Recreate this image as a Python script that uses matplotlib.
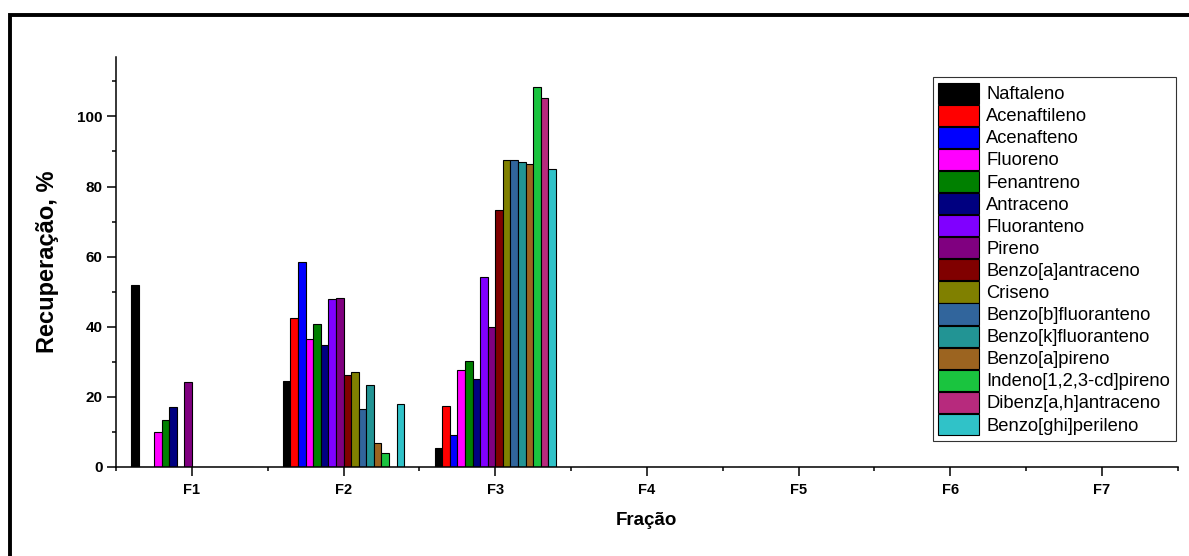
import numpy as np
import matplotlib
matplotlib.use("Agg")
import matplotlib.pyplot as plt
from matplotlib.patches import Rectangle
from matplotlib.ticker import MultipleLocator


########### data
fractions = ["F1", "F2", "F3", "F4", "F5", "F6", "F7"]

compounds = ["Naftaleno", "Acenaftileno", "Acenafteno", "Fluoreno", "Fenantreno",
             "Antraceno", "Fluoranteno", "Pireno", "Benzo[a]antraceno", "Criseno",
             "Benzo[b]fluoranteno", "Benzo[k]fluoranteno", "Benzo[a]pireno",
             "Indeno[1,2,3-cd]pireno", "Dibenz[a,h]antraceno", "Benzo[ghi]perileno"]

colors = ["#000000", "#FF0000", "#0000FF", "#FF00FF", "#008000", "#000080",
          "#8000FF", "#800080", "#800000", "#808000", "#31659C", "#229494",
          "#9C6420", "#1AC43F", "#B72A7D", "#30C2C8"]

# recovery (%) of each compound in each fraction
rec_f1 = [52.0, 0, 0, 10.0, 13.3, 17.1, 0, 24.3, 0, 0, 0, 0, 0, 0, 0, 0]
rec_f2 = [24.6, 42.6, 58.4, 36.4, 40.8, 34.7, 47.8, 48.3, 26.2, 26.9, 16.5, 23.4, 6.9, 4.0, 0, 17.8]
rec_f3 = [5.2, 17.4, 9.1, 27.5, 30.2, 25.0, 54.1, 39.9, 73.3, 87.5, 87.7, 87.0, 86.4, 108.3, 105.4, 84.9]
rec_f4 = [0, 0, 0, 0, 0, 0, 0, 0, 0, 0, 0, 0, 0, 0, 0, 0]
rec_f5 = [0, 0, 0, 0, 0, 0, 0, 0, 0, 0, 0, 0, 0, 0, 0, 0]
rec_f6 = [0, 0, 0, 0, 0, 0, 0, 0, 0, 0, 0, 0, 0, 0, 0, 0]
rec_f7 = [0, 0, 0, 0, 0, 0, 0, 0, 0, 0, 0, 0, 0, 0, 0, 0]


########### plot
plt.rcParams["font.family"] = ["Liberation Sans", "DejaVu Sans"]

table = np.array([rec_f1, rec_f2, rec_f3, rec_f4, rec_f5, rec_f6, rec_f7])
xpos = np.arange(1, len(fractions) + 1)
width = 0.05
n = len(compounds)

fig = plt.figure(figsize=(11.89, 5.56), dpi=100)
ax = fig.add_axes([0.0976, 0.1606, 0.893, 0.737])

for i, (name, col) in enumerate(zip(compounds, colors)):
    vals = table[:, i]
    ax.bar(xpos + (i - (n - 1) / 2) * width, vals, width=width, color=col,
           edgecolor="black", linewidth=0.8, label=name)

ax.set_xlim(0.5, 7.5)
ax.set_ylim(0, 117)
ax.set_xticks(xpos)
ax.set_xticklabels(fractions, fontweight="bold", fontsize=10.5)
ax.xaxis.set_minor_locator(MultipleLocator(0.5))
ax.yaxis.set_major_locator(MultipleLocator(20))
ax.yaxis.set_minor_locator(MultipleLocator(10))
for lab in ax.get_yticklabels():
    lab.set_fontweight("bold")
    lab.set_fontsize(11)

ax.spines["top"].set_visible(False)
ax.spines["right"].set_visible(False)
ax.spines["left"].set_linewidth(1.1)
ax.spines["bottom"].set_linewidth(1.1)
ax.tick_params(which="major", direction="out", length=6.5, width=1.1, pad=3)
ax.tick_params(which="minor", direction="out", length=3, width=1.1)
ax.tick_params(axis="x", which="major", pad=5)

ax.set_xlabel("Fração", fontsize=13.5, fontweight="bold", labelpad=11)
ax.set_ylabel("Recuperação, %", fontsize=17, fontweight="bold", labelpad=13)

leg = ax.legend(loc="upper right", bbox_to_anchor=(0.998, 0.951), borderaxespad=0,
                fontsize=13.2, frameon=True, fancybox=False, edgecolor="black",
                handlelength=2.2, handleheight=1.4, handletextpad=0.42,
                labelspacing=0.05, borderpad=0.3)
leg.get_frame().set_linewidth(0.8)

# outer frame, cut by the image edges on the right and bottom
fig.add_artist(Rectangle((10 / 1189, -0.2), 1.5, 1.2 + (541 / 556 - 1.0),
                         transform=fig.transFigure, fill=False,
                         edgecolor="black", linewidth=2.8))

plt.savefig("out.png", dpi=100)
plt.close("all")
